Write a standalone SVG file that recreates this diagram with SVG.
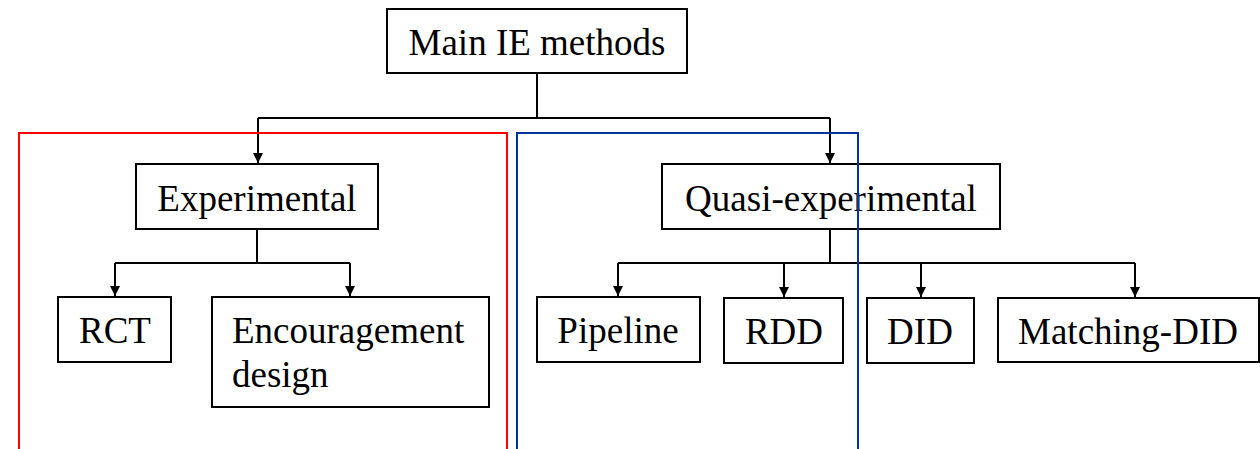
<svg xmlns="http://www.w3.org/2000/svg" width="1260" height="449" viewBox="0 0 1260 449">
  <style>
    .box { fill: #ffffff; stroke: #000000; stroke-width: 2; }
    .lbl { font-family: "Liberation Serif", "Times New Roman", serif; font-size: 37px; fill: #000000; }
    .mid { text-anchor: middle; }
    .edge { fill: none; stroke: #000000; stroke-width: 2; }
    .frame { fill: none; stroke-width: 2; }
  </style>
  <defs>
    <marker id="arrow" markerWidth="10" markerHeight="10" refX="10" refY="5" orient="auto" markerUnits="userSpaceOnUse">
      <path d="M0,0 L10,5 L0,10 Z" fill="#000000"/>
    </marker>
  </defs>

  <!-- tree connectors -->
  <g id="connectors">
    <path class="edge" d="M537,73 V118 M258,118 H830"/>
    <path class="edge" d="M258,118 V163" marker-end="url(#arrow)"/>
    <path class="edge" d="M830,118 V163" marker-end="url(#arrow)"/>
    <path class="edge" d="M257,229 V263 M115,263 H350"/>
    <path class="edge" d="M115,263 V296" marker-end="url(#arrow)"/>
    <path class="edge" d="M350,263 V296" marker-end="url(#arrow)"/>
    <path class="edge" d="M830,229 V263 M618,263 H1135"/>
    <path class="edge" d="M618,263 V296" marker-end="url(#arrow)"/>
    <path class="edge" d="M784,263 V297" marker-end="url(#arrow)"/>
    <path class="edge" d="M921,263 V297" marker-end="url(#arrow)"/>
    <path class="edge" d="M1135,263 V297" marker-end="url(#arrow)"/>
  </g>

  <g id="main">
    <rect class="box" x="387" y="9" width="300" height="64"/>
    <text class="lbl mid" x="537" y="55">Main IE methods</text>
  </g>

  <g id="experimental">
    <rect class="box" x="136" y="164" width="242" height="65"/>
    <text class="lbl mid" x="257" y="211">Experimental</text>
  </g>

  <g id="quasi">
    <rect class="box" x="662" y="164" width="338" height="65"/>
    <text class="lbl mid" x="831" y="211">Quasi-experimental</text>
  </g>

  <g id="rct">
    <rect class="box" x="58" y="297" width="113" height="65"/>
    <text class="lbl mid" x="115" y="343">RCT</text>
  </g>

  <g id="encouragement">
    <rect class="box" x="212" y="297" width="277" height="110"/>
    <text class="lbl" x="232" y="343">Encouragement</text>
    <text class="lbl" x="232" y="387">design</text>
  </g>

  <g id="pipeline">
    <rect class="box" x="537" y="297" width="163" height="65"/>
    <text class="lbl mid" x="618" y="343">Pipeline</text>
  </g>

  <g id="rdd">
    <rect class="box" x="724" y="298" width="119" height="65"/>
    <text class="lbl mid" x="784" y="344">RDD</text>
  </g>

  <g id="did">
    <rect class="box" x="867" y="298" width="107" height="65"/>
    <text class="lbl mid" x="920" y="344">DID</text>
  </g>

  <g id="matching-did">
    <rect class="box" x="998" y="298" width="261" height="64"/>
    <text class="lbl mid" x="1128" y="344">Matching-DID</text>
  </g>

  <!-- grouping frames, open at the bottom edge -->
  <g id="frames">
    <path class="frame" stroke="#ff0000" d="M19,450 V133 H507 V450"/>
    <path class="frame" stroke="#0033a0" d="M517,450 V133 H858 V450"/>
  </g>
</svg>
